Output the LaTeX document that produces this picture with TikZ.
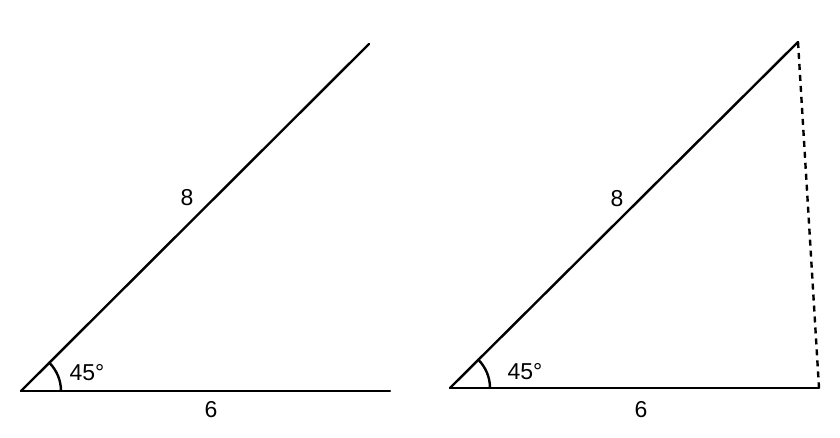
\documentclass[tikz,border=0pt]{standalone}
\usepackage{fontspec}
\setmainfont{Liberation Sans}
\usetikzlibrary{positioning}
\tikzset{
  side/.style={line width=2.4pt, line cap=round},
  hidden/.style={line width=2.4pt, dash pattern=on 6pt off 5pt},
  lbl/.style={font=\fontsize{23}{27}\selectfont, inner sep=0pt}
}
\begin{document}
\begin{tikzpicture}[x=1pt, y=-1pt]
        \useasboundingbox (0,0) rectangle (840,438);
        % left triangle
        \coordinate (A) at (21,391);
        \coordinate (B) at (390,391);
        \coordinate (C) at (369,44);
        \draw[side] (A) -- (B);
        \draw[side] (A) -- (C);
        \draw[side] (61,391) arc[start angle=0, end angle=-45, radius=40];
        \node[lbl] (angA) at (87,373) {45°};
        \node[lbl] (eightA) at (187,198) {8};
        \node[lbl] (sixA) at (211,410) {6};
        % right triangle
        \coordinate (D) at (450,388);
        \coordinate (E) at (819,388);
        \coordinate (F) at (798,42);
        \draw[side] (D) -- (E);
        \draw[side] (D) -- (F);
        \draw[hidden] (F) -- (E);
        \draw[side] (490,388) arc[start angle=0, end angle=-45, radius=40];
        \node[lbl] (angD) at (525,372) {45°};
        \node[lbl] (eightD) at (617,199) {8};
        \node[lbl] (sixD) at (641,410) {6};
      \end{tikzpicture}
\end{document}
